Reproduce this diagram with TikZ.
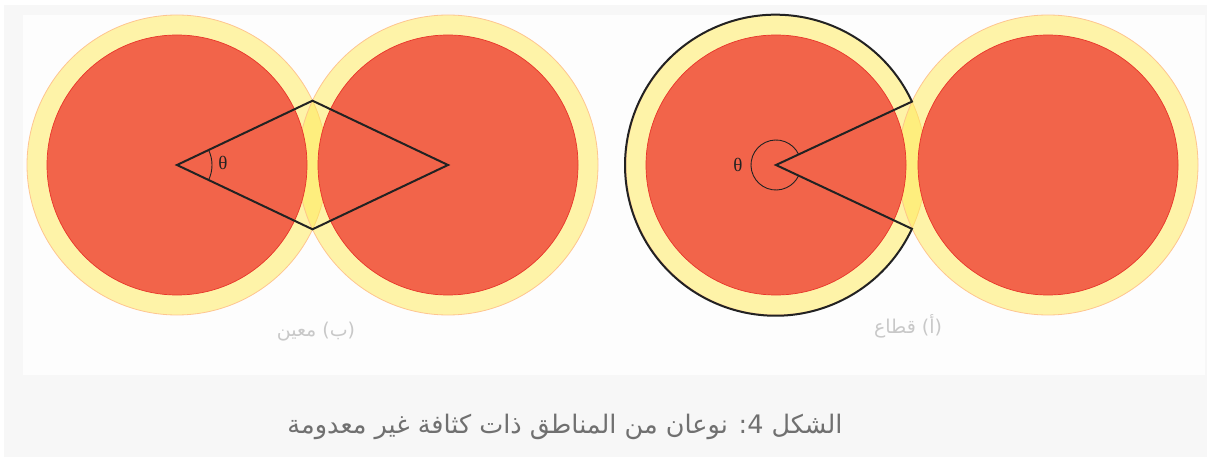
\documentclass[tikz,border=0pt]{standalone}
\usepackage{fontspec}
\newfontfamily\arabicfont[Script=Arabic]{DejaVu Sans}
\newfontfamily\thetafont{Liberation Serif}
\TeXXeTstate=1
\definecolor{bggray}{HTML}{F7F7F7}
\definecolor{panel}{HTML}{FDFDFD}
\definecolor{halo}{RGB}{255,235,85}
\definecolor{haloedge}{HTML}{FFC08A}
\definecolor{core}{HTML}{F2644A}
\definecolor{coreedge}{HTML}{E8352A}
\definecolor{outline}{HTML}{222222}
\definecolor{labelgray}{HTML}{C8C8C8}
\definecolor{capgray}{HTML}{707070}
\tikzset{
  halodisk/.style={fill=halo, fill opacity=0.5, draw=haloedge, draw opacity=0.9, line width=0.8pt},
  coredisk/.style={fill=core, draw=coreedge, line width=0.7pt},
  shapeline/.style={draw=outline, line width=2pt, line join=miter},
  anglearc/.style={draw=outline, line width=0.9pt},
  thetalabel/.style={font=\thetafont\fontsize{19}{19}\selectfont, text=outline, inner sep=0pt},
  sublabel/.style={font=\arabicfont\fontsize{19}{21}\selectfont, text=labelgray, inner sep=0pt},
  captionlabel/.style={font=\arabicfont\fontsize{25.5}{28}\selectfont, text=capgray, inner sep=0pt}
}
\begin{document}
\begin{tikzpicture}[x=1pt,y=-1pt]
\useasboundingbox (0,0) rectangle (1207,457);
\fill[white] (0,0) rectangle (1207,457);
\fill[bggray] (4,5) rectangle (1207,457);
\fill[panel] (23,15) rectangle (1205,375);

% centres
\coordinate (b1) at (177,165);
\coordinate (b2) at (448,165);
\coordinate (a1) at (776,165);
\coordinate (a2) at (1048,165);

% halos
\path[halodisk] (b1) circle[radius=150];
\path[halodisk] (b2) circle[radius=150];
\path[halodisk] (a1) circle[radius=150];
\path[halodisk] (a2) circle[radius=150];
% cores
\path[coredisk] (b1) circle[radius=130];
\path[coredisk] (b2) circle[radius=130];
\path[coredisk] (a1) circle[radius=130];
\path[coredisk] (a2) circle[radius=130];

% (b) rhombus
\coordinate (btop) at (312.5,100.7);
\coordinate (bbot) at (312.5,229.3);
\draw[shapeline] (b1) -- (btop) -- (b2) -- (bbot) -- cycle;
\draw[anglearc] ([shift={(-25.4:35)}]b1) arc[start angle=-25.4, end angle=25.4, radius=35];
\node[thetalabel] (tb) at (223,163) {θ};

% (a) sector
\coordinate (atop) at ([shift={(-25:150)}]a1);
\coordinate (abot) at ([shift={(25:150)}]a1);
\draw[shapeline] (a1) -- (atop) arc[start angle=-25, end angle=-335, radius=150.5] -- cycle;
\draw[anglearc] ([shift={(-25:25)}]a1) arc[start angle=-25, end angle=-335, radius=25];
\node[thetalabel] (ta) at (738,165) {θ};

% labels
\node[sublabel] (lb) at (316,332) {\beginR(ب) معين\endR};
\node[sublabel] (la) at (908,326) {\beginR(أ) قطاع\endR};
\node[captionlabel] (cap) at (565,427) {\beginR الشكل \beginL4\endL: نوعان من المناطق ذات كثافة غير معدومة\endR};
\end{tikzpicture}
\end{document}
